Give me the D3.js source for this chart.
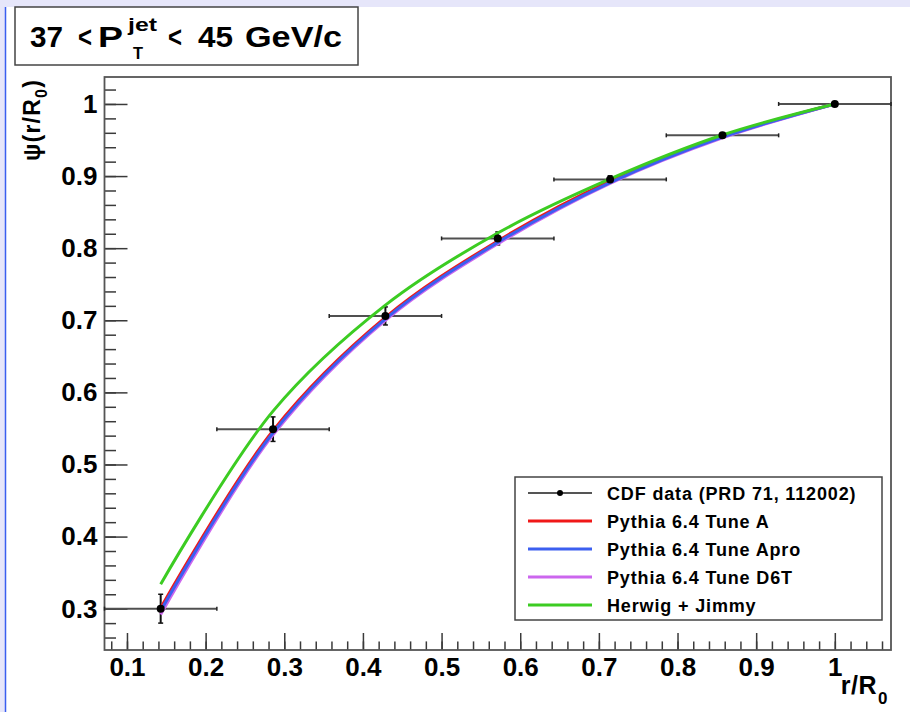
<!DOCTYPE html>
<html>
<head>
<meta charset="utf-8">
<script src="https://cdn.jsdelivr.net/npm/d3@7"></script>
<style>
  html, body { margin: 0; padding: 0; background: #fff; }
  text { font-family: "Liberation Sans", Arial, sans-serif; font-weight: bold; }
</style>
</head>
<body>
<script>
// bin centres in r/R0 (7 bins of width 1/7)
const rCenters = [1/7, 2/7, 3/7, 4/7, 5/7, 6/7, 1];
const binHalf = 1 / 14;

// CDF data with stat errors
const cdfPsi = [0.300, 0.549, 0.706, 0.8135, 0.8954, 0.9565, 1.0];
const cdfErr = [0.020, 0.017, 0.0125, 0.009, 0.005, 0.003, 0.0];

// MC predictions
const tuneA    = [0.301, 0.547, 0.704, 0.810, 0.893, 0.955, 1.0];
const tuneApro = [0.297, 0.544, 0.702, 0.808, 0.891, 0.954, 1.0];
const tuneD6T  = [0.292, 0.541, 0.700, 0.806, 0.890, 0.953, 1.0];
const herwig   = [0.334, 0.574, 0.721, 0.821, 0.896, 0.957, 1.0];

const xMajor = [0.1, 0.2, 0.3, 0.4, 0.5, 0.6, 0.7, 0.8, 0.9, 1.0];
const yMajor = [0.3, 0.4, 0.5, 0.6, 0.7, 0.8, 0.9, 1.0];

const legendLabels = ["CDF data (PRD 71, 112002)", "Pythia 6.4 Tune A", "Pythia 6.4 Tune Apro",
                      "Pythia 6.4 Tune D6T", "Herwig + Jimmy"];

const width = 910, height = 712;
const frame = { left: 104.5, right: 891, top: 77, bottom: 650 };

const svg = d3.select("body").append("svg")
  .attr("xmlns", "http://www.w3.org/2000/svg")
  .attr("width", width)
  .attr("height", height);

// page background bits (slide frame)
svg.append("rect").attr("width", width).attr("height", height).attr("fill", "#fff");
svg.append("rect").attr("width", width).attr("height", 7).attr("fill", "#e6e6fa");
svg.append("rect").attr("width", 5).attr("height", height).attr("fill", "#e6e6fa");
svg.append("line").attr("x1", 5.5).attr("x2", 5.5).attr("y1", 7).attr("y2", height)
  .attr("stroke", "#3a5ef0").attr("stroke-width", 1.5);

const x = d3.scaleLinear().domain([1/14, 15/14]).range([frame.left, frame.right]);
const y = d3.scaleLinear().domain([0.2427, 1.0374]).range([frame.bottom, frame.top]);

const fmt = d3.format(".1~f");
const xMinor = d3.range(4, 54).map(i => +(i * 0.02).toFixed(2)).filter(v => v > 1/14 && v < 15/14);
const yMinor = d3.range(12, 52).map(i => +(i * 0.02).toFixed(2)).filter(v => v > 0.2427 && v < 1.0374);

// axes (ticks pointing into the frame, ROOT style)
const gx = svg.append("g").attr("transform", `translate(0,${frame.bottom})`);
gx.append("g").call(d3.axisBottom(x).tickValues(xMinor).tickSize(-8.6).tickFormat(""));
gx.append("g").call(d3.axisBottom(x).tickValues(xMajor).tickSize(-17).tickPadding(8).tickFormat(fmt))
  .selectAll("text").attr("font-size", 26).attr("fill", "#000");

const gy = svg.append("g").attr("transform", `translate(${frame.left},0)`);
gy.append("g").call(d3.axisLeft(y).tickValues(yMinor).tickSize(-11.5).tickFormat(""));
gy.append("g").call(d3.axisLeft(y).tickValues(yMajor).tickSize(-23).tickPadding(7).tickFormat(fmt))
  .selectAll("text").attr("font-size", 26).attr("fill", "#000");

svg.selectAll(".domain").remove();
svg.selectAll(".tick line").attr("stroke", "#3a3a3a").attr("stroke-width", 1.5);
svg.selectAll(".tick text").attr("font-family", "'Liberation Sans', Arial, sans-serif").attr("font-weight", "bold");

svg.append("rect")
  .attr("x", frame.left).attr("y", frame.top)
  .attr("width", frame.right - frame.left).attr("height", frame.bottom - frame.top)
  .attr("fill", "none").attr("stroke", "#555").attr("stroke-width", 1.8);

// axis titles
svg.append("text")
  .attr("x", 877).attr("y", 694).attr("text-anchor", "end")
  .attr("font-size", 25).attr("letter-spacing", 0.5)
  .text("r/R");
svg.append("text").attr("x", 878).attr("y", 704).attr("font-size", 17).text("0");

const yt = svg.append("text")
  .attr("transform", "translate(40,79) rotate(-90)")
  .attr("text-anchor", "end").attr("font-size", 23).attr("letter-spacing", 1.2);
yt.append("tspan").text("\u03c8(r/R");
yt.append("tspan").attr("font-size", 16).attr("dy", 7).text("0");
yt.append("tspan").attr("dy", -7).text(")");

// CDF data: error bars
const data = rCenters.map((r, i) => ({ r, v: cdfPsi[i], e: cdfErr[i] }));
const gd = svg.append("g");
gd.selectAll("line.h").data(data).enter().append("line")
  .attr("x1", d => x(d.r - binHalf)).attr("x2", d => x(d.r + binHalf))
  .attr("y1", d => y(d.v)).attr("y2", d => y(d.v))
  .attr("stroke", "#505050").attr("stroke-width", 2);
gd.selectAll("line.hl").data(data).enter().append("line")
  .attr("x1", d => x(d.r - binHalf)).attr("x2", d => x(d.r - binHalf))
  .attr("y1", d => y(d.v) - 2).attr("y2", d => y(d.v) + 2)
  .attr("stroke", "#222").attr("stroke-width", 1.5);
gd.selectAll("line.hr").data(data).enter().append("line")
  .attr("x1", d => x(d.r + binHalf)).attr("x2", d => x(d.r + binHalf))
  .attr("y1", d => y(d.v) - 2).attr("y2", d => y(d.v) + 2)
  .attr("stroke", "#222").attr("stroke-width", 1.5);
gd.selectAll("line.v").data(data.filter(d => d.e > 0)).enter().append("line")
  .attr("x1", d => x(d.r)).attr("x2", d => x(d.r))
  .attr("y1", d => y(d.v - d.e)).attr("y2", d => y(d.v + d.e))
  .attr("stroke", "#111").attr("stroke-width", 2);
[-1, 1].forEach(s => {
  gd.selectAll(null).data(data.filter(d => d.e > 0)).enter().append("line")
    .attr("x1", d => x(d.r) - 2.5).attr("x2", d => x(d.r) + 2.5)
    .attr("y1", d => y(d.v + s * d.e)).attr("y2", d => y(d.v + s * d.e))
    .attr("stroke", "#111").attr("stroke-width", 1.5);
});

// MC curves
const series = [
  { vals: tuneA, color: "#f01818" },
  { vals: tuneD6T, color: "#cc66ee" },
  { vals: tuneApro, color: "#3c5ff0" },
  { vals: herwig, color: "#3ccc22" }
];
const line = d3.line()
  .x(d => x(d[0])).y(d => y(d[1]))
  .curve(d3.curveCatmullRom.alpha(0.5));
svg.append("g").selectAll("path").data(series).enter().append("path")
  .attr("d", s => line(rCenters.map((r, i) => [r, s.vals[i]])))
  .attr("fill", "none").attr("stroke", s => s.color).attr("stroke-width", 3);

// data markers on top
svg.append("g").selectAll("circle").data(data).enter().append("circle")
  .attr("cx", d => x(d.r)).attr("cy", d => y(d.v)).attr("r", 4).attr("fill", "#000");

// title box
svg.append("rect").attr("x", 15).attr("y", 7).attr("width", 343).attr("height", 58)
  .attr("fill", "#fff").attr("stroke", "#444").attr("stroke-width", 1.5);
const tt = svg.append("g").attr("font-size", 29);
// [text, x, baseline, font size, width]
const titleParts = [
  ["37", 30, 47, 29, 33], ["<", 78, 47, 29, 14], ["P", 98, 47, 29, 25],
  ["jet", 128, 31, 19, 29], ["T", 133, 59, 17, 10], ["<", 168, 47, 29, 14],
  ["45", 198, 47, 29, 35], ["GeV/c", 245, 47, 29, 97]
];
titleParts.forEach(([s, tx, ty, fs, w]) => {
  tt.append("text").attr("x", tx).attr("y", ty).attr("font-size", fs)
    .attr("textLength", w).attr("lengthAdjust", "spacingAndGlyphs").text(s);
});

// legend
const lg = svg.append("g");
lg.append("rect").attr("x", 515).attr("y", 477).attr("width", 367).attr("height", 143)
  .attr("fill", "#fff").attr("stroke", "#444").attr("stroke-width", 1.5);
const legendColors = ["#555", "#f01818", "#3c5ff0", "#cc66ee", "#3ccc22"];
const rowY = d3.scaleLinear().domain([0, 4]).range([493, 605]);
legendLabels.forEach((lab, i) => {
  lg.append("line").attr("x1", 528).attr("x2", 592).attr("y1", rowY(i)).attr("y2", rowY(i))
    .attr("stroke", legendColors[i]).attr("stroke-width", i === 0 ? 2 : 3);
  if (i === 0) lg.append("circle").attr("cx", 560).attr("cy", rowY(i)).attr("r", 3).attr("fill", "#000");
  lg.append("text").attr("x", 607).attr("y", rowY(i) + 6.5)
    .attr("font-size", 18).attr("letter-spacing", 0.85).text(lab);
});
</script>
</body>
</html>
